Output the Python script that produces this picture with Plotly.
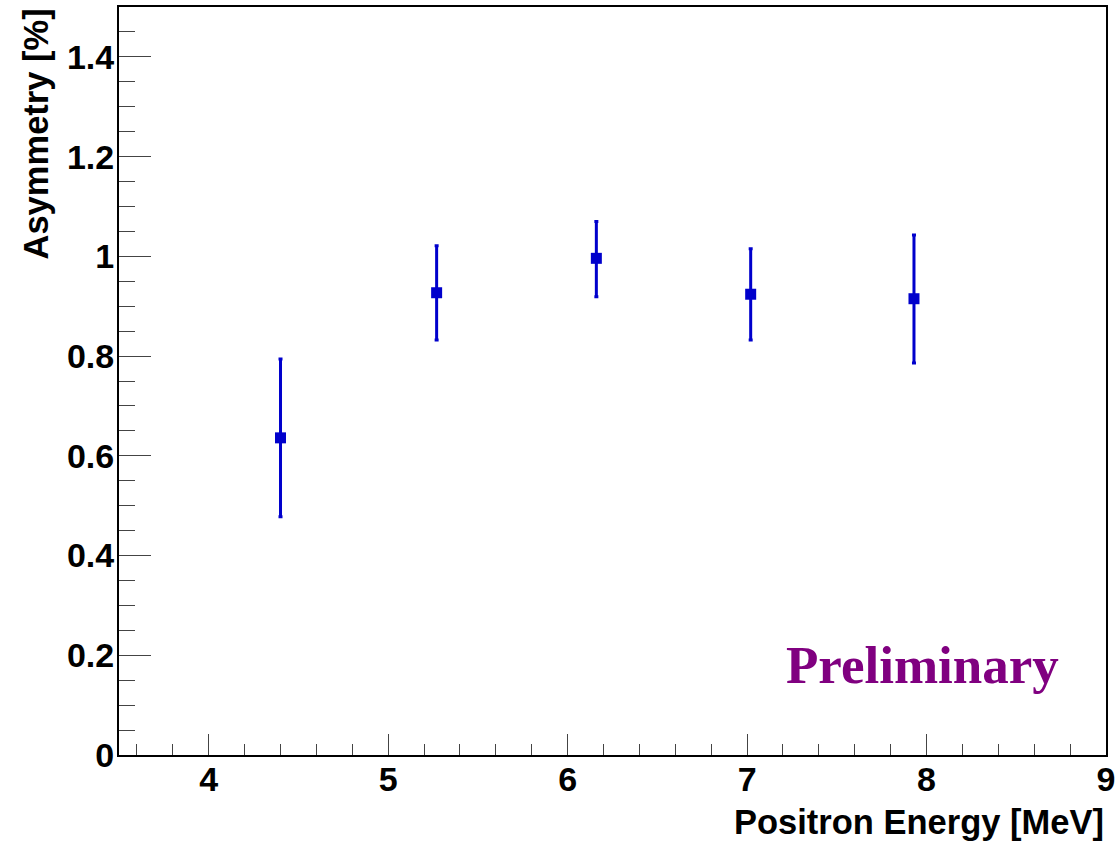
import plotly.graph_objects as go

energy = [4.40, 5.27, 6.16, 7.02, 7.93]
asymmetry = [0.636, 0.927, 0.996, 0.924, 0.915]
err_up = [0.158, 0.094, 0.074, 0.091, 0.128]
err_down = [0.158, 0.095, 0.077, 0.092, 0.129]

x_title = "Positron Energy [MeV]"
y_title = "Asymmetry [%]"
label = "Preliminary"

fig = go.Figure()
fig.add_trace(go.Scatter(
    x=energy, y=asymmetry, mode="markers",
    marker=dict(symbol="square", size=11, color="#0000cc"),
    error_y=dict(type="data", symmetric=False, array=err_up, arrayminus=err_down,
                 color="#0000cc", thickness=3, width=2),
    showlegend=False,
))

axis_font = dict(family="Liberation Sans, Arial, sans-serif", size=34, color="black",
                 weight="bold")

fig.update_layout(
    width=1117, height=843,
    margin=dict(l=119, r=11, t=7, b=88, autoexpand=False),
    paper_bgcolor="white", plot_bgcolor="white",
    xaxis=dict(range=[3.5, 9], dtick=1, tick0=0, ticks="inside", ticklen=21,
               tickwidth=1, tickcolor="#444", showline=True, linewidth=2,
               linecolor="black", mirror=True, showgrid=False, zeroline=False,
               tickfont=axis_font, ticklabelstandoff=-7, automargin=False,
               minor=dict(dtick=0.2, ticks="inside", ticklen=11, tickcolor="#444",
                          tickwidth=1, showgrid=False)),
    yaxis=dict(range=[0, 1.5], dtick=0.2, tick0=0, ticks="inside", ticklen=32,
               tickwidth=1, tickcolor="#444", showline=True, linewidth=2,
               linecolor="black", mirror=True, showgrid=False, zeroline=False,
               tickfont=axis_font, ticklabelstandoff=-4, automargin=False,
               minor=dict(dtick=0.05, ticks="inside", ticklen=16, tickcolor="#444",
                          tickwidth=1, showgrid=False)),
    annotations=[
        dict(text="<b>" + x_title + "</b>", xref="paper", yref="paper",
             x=1, y=-67 / 748, xanchor="right", yanchor="middle", showarrow=False,
             font=dict(family="Liberation Sans, Arial, sans-serif", size=34.5, color="black")),
        dict(text="<b>" + y_title + "</b>", xref="paper", yref="paper",
             x=-(119 - 35) / 987, y=1, xanchor="center", yanchor="top",
             textangle=-90, showarrow=False,
             font=dict(family="Liberation Sans, Arial, sans-serif", size=34.5, color="black")),
        dict(text="<b>" + label + "</b>", xref="paper", yref="paper",
             x=(922 - 119) / 987, y=(755 - 665) / 748, xanchor="center", yanchor="middle",
             showarrow=False,
             font=dict(family="Liberation Serif, Times New Roman, serif", size=53, color="#800080")),
    ],
)

fig.write_html("out.html", config={"displayModeBar": False},
               post_script="document.body.style.margin='0';document.body.style.overflow='hidden';")
